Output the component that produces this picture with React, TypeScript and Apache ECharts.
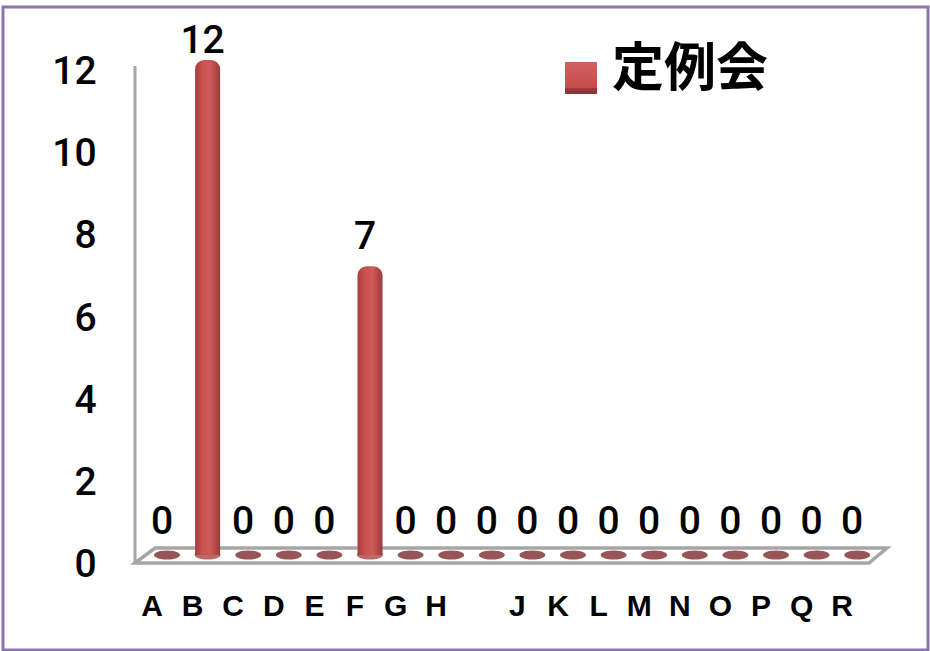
import React, { useEffect, useRef } from "react";
import * as echarts from "echarts";

const categories = ["A", "B", "C", "D", "E", "F", "G", "H", "", "J", "K", "L", "M", "N", "O", "P", "Q", "R"];
const values = [0, 12, 0, 0, 0, 7, 0, 0, 0, 0, 0, 0, 0, 0, 0, 0, 0, 0];
const seriesName = "定例会";
const baselineName = "基線";
const yMax = 12;
const yStep = 2;

const DIGITS = 'Roboto, "Liberation Sans", sans-serif';
const GREY = "#a6a6a6";

const barFill = new echarts.graphic.LinearGradient(0, 0, 1, 0, [
  { offset: 0, color: "#a23f3c" },
  { offset: 0.3, color: "#c9514f" },
  { offset: 0.6, color: "#cf5a58" },
  { offset: 1, color: "#9c3a38" },
]);

const legendFill = new echarts.graphic.LinearGradient(0, 0, 0, 1, [
  { offset: 0, color: "#d2605e" },
  { offset: 0.82, color: "#c24e4c" },
  { offset: 0.83, color: "#97383a" },
  { offset: 1, color: "#8f3331" },
]);

export default function App() {
  const ref = useRef<HTMLDivElement>(null);
  useEffect(() => {
    document.body.style.margin = "0";
    const chart = echarts.init(ref.current!, null, { renderer: "svg" });
    chart.setOption({
      animation: false,
      backgroundColor: "#fff",
      legend: {
        left: 560,
        top: 32,
        itemWidth: 32,
        itemHeight: 32,
        itemGap: 0,
        data: [{ name: seriesName, icon: "rect", itemStyle: { color: legendFill, borderWidth: 0 } }],
        formatter: "{t|{name}}",
        textStyle: {
          rich: {
            t: {
              fontSize: 52,
              fontWeight: "bold",
              color: "#000",
              fontFamily: '"Noto Sans CJK JP", sans-serif',
              lineHeight: 56,
              padding: [0, 0, 30, 10],
            },
          },
        },
      },
      grid: [
        { left: 146.7, top: 60, width: 730.8, height: 495 },
        { left: 131.7, top: 71, width: 730.8, height: 493 },
      ],
      xAxis: [
        { gridIndex: 0, type: "category", data: categories, show: false },
        {
          gridIndex: 1,
          type: "category",
          data: categories,
          axisLine: { show: false },
          axisTick: { show: false },
          axisLabel: { interval: 0, margin: 26, fontSize: 30, fontWeight: "bold", color: "#000", fontFamily: '"Liberation Sans", sans-serif' },
        },
      ],
      yAxis: [
        { gridIndex: 0, type: "value", min: 0, max: yMax, show: false },
        {
          gridIndex: 1,
          type: "value",
          min: 0,
          max: yMax,
          interval: yStep,
          axisLine: { show: false },
          axisTick: { show: false },
          splitLine: { show: false },
          axisLabel: { margin: 35, fontSize: 39, fontWeight: 500, color: "#000", fontFamily: DIGITS },
        },
      ],
      series: [
        {
          name: baselineName,
          type: "scatter",
          xAxisIndex: 0,
          yAxisIndex: 0,
          symbol: "circle",
          symbolSize: [26, 9],
          z: 3,
          silent: true,
          data: values.map((v) => ({
            value: 0,
            itemStyle: { color: v > 0 ? "#a84441" : "#7d2b2b" },
          })),
        },
        {
          name: seriesName,
          type: "bar",
          xAxisIndex: 0,
          yAxisIndex: 0,
          barWidth: 25,
          z: 4,
          itemStyle: { color: barFill, borderRadius: [9, 9, 0, 0] },
          label: { show: true, position: "top", offset: [-5, 0], fontSize: 39, fontWeight: 500, color: "#000", fontFamily: DIGITS },
          data: values.map((v) => ({
            value: v,
            label: { distance: v === yMax ? 1 : v > 0 ? 11 : 15 },
          })),
        },
      ],
      graphic: [
        {
          type: "rect",
          z: 0,
          shape: { x: 3, y: 7, width: 925, height: 643 },
          style: { fill: "none", stroke: "#8c74ae", lineWidth: 3 },
        },
        {
          type: "polygon",
          z: 0,
          shape: { points: [[135, 563], [155, 548], [887, 548], [869, 563]] },
          style: { fill: "#fff", stroke: GREY, lineWidth: 3.5 },
        },
        {
          type: "line",
          z: 0,
          shape: { x1: 135, y1: 66, x2: 135, y2: 564 },
          style: { stroke: GREY, lineWidth: 3 },
        },
      ],
    });
    return () => chart.dispose();
  }, []);
  return <div ref={ref} style={{ width: 930, height: 651 }} />;
}
